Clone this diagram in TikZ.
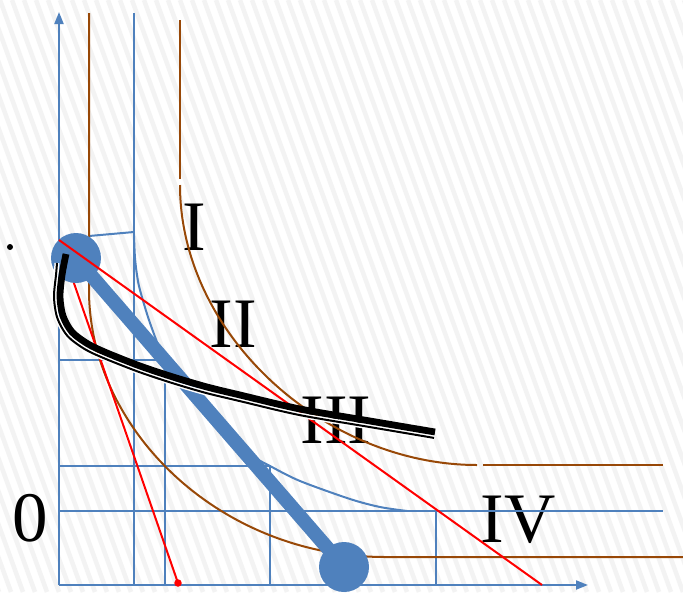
\documentclass[tikz,border=0pt]{standalone}
\usepackage{fontspec}
\setmainfont{Liberation Serif}
\usetikzlibrary{arrows.meta}
\definecolor{oblue}{HTML}{4F81BD}
\definecolor{obrown}{HTML}{984807}
\definecolor{stripecol}{HTML}{F3F3F3}
\begin{document}
\begin{tikzpicture}[x=1pt,y=-1pt,
  bl/.style={draw=oblue,line width=2pt},
  br/.style={draw=obrown,line width=2pt},
  rd/.style={draw=red,line width=2pt},
  axis/.style={draw=oblue,line width=2pt,-{Triangle[length=12pt,width=9pt]}},
  lab/.style={font=\fontsize{71}{71}\selectfont,inner sep=0pt,anchor=base},
  bigdot/.style={circle,fill=oblue,minimum size=50pt,inner sep=0pt},
  thickblue/.style={draw=oblue,line width=14pt},
  blackthick/.style={draw=black,line width=6.8pt},
  blackthin/.style={draw=black,line width=2pt},
  halo/.style={draw=white,line width=5pt},
]
\useasboundingbox (0,0) rectangle (683,592);
\fill[white] (0,0) rectangle (683,592);
\begin{scope}
  \clip (0,0) rectangle (683,592);
  \foreach \i in {-240,-228,...,696} \draw[stripecol,line width=4.5pt] (\i,0) -- ({\i+215},592);
\end{scope}

% labels
\node[lab] (lI) at (194,250) {I};
\node[lab] (lII) at (233,347) {II};
\node[lab] (lIII) at (336,443) {III};
\node[lab] (lIV) at (518,542) {IV};
\node[lab] (l0) at (30,541) {0};

% grid lines
\draw[bl] (134,13) -- (134,585);
\draw[bl] (59,511) -- (663,511);
\draw[bl] (59,360) -- (165,360) -- (165,585);
\draw[bl] (59,466) -- (270,466) -- (270,585);
\draw[bl] (436,511) -- (436,585);
\draw[bl] (89,236) -- (134,232);

% axes
\coordinate (O) at (59,585);
\coordinate (ytip) at (59,12);
\coordinate (xtip) at (588,585);
\draw[axis] (O) -- (ytip);
\draw[axis] (O) -- (xtip);

% blue isoquant
\draw[bl] plot[smooth] coordinates {(134,236) (135,258) (137,275) (140,290) (150,323) (165,360) (190,397) (220,430) (245,452) (270,466) (300,481) (350,499) (380,507) (407,511)};

% brown curves
\draw[br] (89,13) -- (89,290) .. controls (89,430) and (220,557) .. (385,557) -- (683,557);
\draw[br] (180,20) -- (180,179);
\draw[br] (180,185) .. controls (180,335) and (325,465) .. (477,465);
\draw[br] (483,465) -- (663,465);

% red line under circle
\coordinate (r0) at (59,240);
\node[circle,fill=red,inner sep=0pt,minimum size=7.5pt] (rdot) at (178,583) {};
\draw[rd] (r0) -- (rdot.center);

% thick blue line with circles
\node[bigdot] (c1) at (76,258) {};
\node[bigdot] (c2) at (344,567) {};
\draw[thickblue] (c1.center) -- (c2.center);

% red line over
\coordinate (r1) at (542,585);
\draw[rd] (r0) -- (r1);

% black double curve
\def\thinpath{(57,263) (56.1,274.2) (54,297) (57.3,317.9) (67.5,336) (84.9,349.2) (104.7,358.5) (138,371.6) (171.2,382.7) (205.4,392.8) (238.6,400.8) (298.8,414.9) (369,426.9) (434,437.9)}
\draw[halo] plot[smooth] coordinates {\thinpath};
\draw[blackthick] plot[smooth] coordinates {(66,254) (62,275) (60,297) (63,316) (72,332) (88,344) (107,353) (140,366) (173,377) (207,387) (240,395) (300,409) (370,421) (435,432)};
\draw[blackthin] plot[smooth] coordinates {\thinpath};

% small dot
\node[circle,fill=black,inner sep=0pt,minimum size=6pt] (sdot) at (10,247) {};
\end{tikzpicture}
\end{document}
